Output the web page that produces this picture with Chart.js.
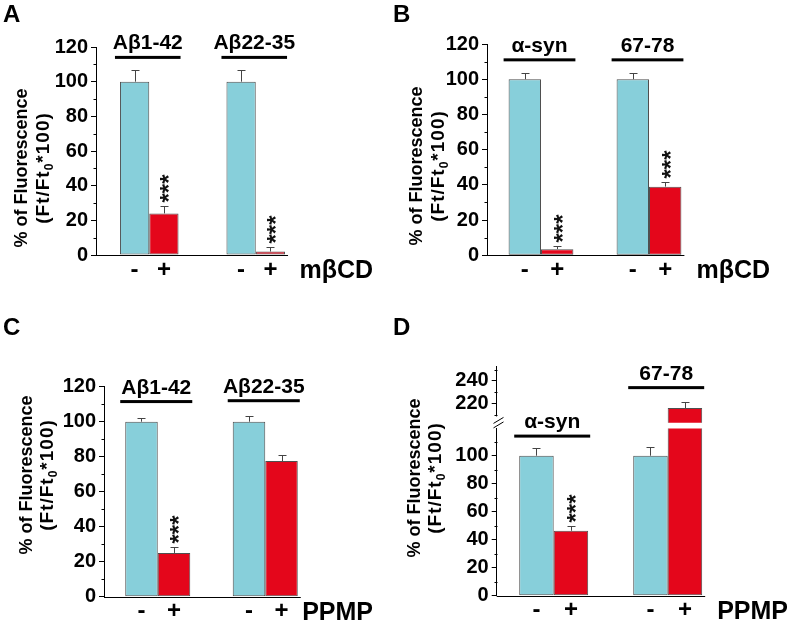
<!DOCTYPE html>
<html>
<head>
<meta charset="utf-8">
<script src="https://cdn.jsdelivr.net/npm/chart.js@4.4.0/dist/chart.umd.min.js"></script>
<style>
  body { margin: 0; background: #fff; }
  #fig { position: relative; width: 787px; height: 625px; overflow: hidden; background: #fff; }
  #fig canvas { position: absolute; }
</style>
</head>
<body>
<div id="fig">
  <canvas id="chartA"></canvas>
  <canvas id="chartB"></canvas>
  <canvas id="chartC"></canvas>
  <canvas id="chartDtop"></canvas>
  <canvas id="chartD"></canvas>
</div>
<script>
/* Fluorescence after mβCD / PPMP treatment — four bar panels */

const TREATMENT_SIGNS = ['-', '+'];
const Y_TITLE_1 = '% of Fluorescence';
const Y_TITLE_2 = ['(Ft/Ft', '0', '*100)'];   // middle part is a subscript

// A: mβCD on Aβ peptides
const A_GROUPS = ['Aβ1-42', 'Aβ22-35'];
const A_CONTROL = [100, 100];
const A_CONTROL_SEM = [6.7, 6.7];
const A_TREATED = [24, 2];
const A_TREATED_SEM = [4.3, 2.9];
const A_STARS = ['***', '***'];

// B: mβCD on α-syn peptides
const B_GROUPS = ['α-syn', '67-78'];
const B_CONTROL = [100, 100];
const B_CONTROL_SEM = [3.4, 3.4];
const B_TREATED = [3.5, 39];
const B_TREATED_SEM = [1.6, 2.6];
const B_STARS = ['***', '***'];

// C: PPMP on Aβ peptides
const C_GROUPS = ['Aβ1-42', 'Aβ22-35'];
const C_CONTROL = [100, 100];
const C_CONTROL_SEM = [2.3, 3.3];
const C_TREATED = [25, 77.5];
const C_TREATED_SEM = [3.3, 3.3];
const C_STARS = ['***', ''];

// D: PPMP on α-syn peptides (broken axis)
const D_GROUPS = ['α-syn', '67-78'];
const D_CONTROL = [100, 100];
const D_CONTROL_SEM = [5.3, 6.2];
const D_TREATED = [46.4, 216];
const D_TREATED_SEM = [3.6, 5];
const D_STARS = ['***', ''];

const CYAN = '#87CFDA';
const RED = '#E4061B';
const EDGE = '#4f4f4f';
const ERR_COLOR = '#444';
const FONT = 'Arial, "Liberation Sans", sans-serif';

Chart.defaults.font.family = FONT;
Chart.defaults.color = '#000';

const PANELS = [
  {
    letter: 'A', letterY: 22, groups: A_GROUPS, control: A_CONTROL, controlSem: A_CONTROL_SEM,
    treated: A_TREATED, treatedSem: A_TREATED_SEM, stars: A_STARS, treatment: 'mβCD',
    levels: [114, 114], treatX: 373, titleX: [21, 42.5], titleY: 168, groupFrac: 0.55,
    parts: [{ id: 'chartA', box: [0, 0, 390, 300], area: [96, 47, 309, 255], min: 0, max: 120, main: true }]
  },
  {
    letter: 'B', letterY: 22, groups: B_GROUPS, control: B_CONTROL, controlSem: B_CONTROL_SEM,
    treated: B_TREATED, treatedSem: B_TREATED_SEM, stars: B_STARS, treatment: 'mβCD',
    levels: [111, 111], treatX: 380, titleX: [25.5, 47.5], titleY: 166, groupFrac: 0.6,
    parts: [{ id: 'chartB', box: [390, 0, 397, 300], area: [97, 44, 313, 255.3], min: 0, max: 120, main: true }]
  },
  {
    letter: 'C', letterY: 35, groups: C_GROUPS, control: C_CONTROL, controlSem: C_CONTROL_SEM,
    treated: C_TREATED, treatedSem: C_TREATED_SEM, stars: C_STARS, treatment: 'PPMP',
    levels: [111.5, 112], treatX: 373, titleX: [26, 47], titleY: 175, groupFrac: 0.605,
    parts: [{ id: 'chartC', box: [0, 300, 390, 325], area: [104, 86.7, 319, 296.7], min: 0, max: 120, main: true }]
  },
  {
    letter: 'D', letterY: 35, groups: D_GROUPS, control: D_CONTROL, controlSem: D_CONTROL_SEM,
    treated: D_TREATED, treatedSem: D_TREATED_SEM, stars: D_STARS, treatment: 'PPMP',
    levels: [114, 234], treatX: 398, titleX: [23.5, 45], titleY: 178, groupFrac: 0.605,
    parts: [
      { id: 'chartDtop', box: [390, 300, 397, 150], area: [106.7, 66.7, 334.7, 122.7], min: 203, max: 252.5 },
      { id: 'chartD', box: [390, 300, 397, 325], area: [106.7, 128.4, 334.7, 295.7], min: 0, max: 119.5, main: true, axisBreak: true }
    ]
  }
];

function strokeLine(ctx, x1, y1, x2, y2) {
  ctx.beginPath();
  ctx.moveTo(x1, y1);
  ctx.lineTo(x2, y2);
  ctx.stroke();
}

function drawYTitle(ctx, p) {
  ctx.save();
  ctx.fillStyle = '#000';
  ctx.textBaseline = 'alphabetic';
  ctx.font = `bold 18px ${FONT}`;
  ctx.translate(p.titleX[0], p.titleY);
  ctx.rotate(-Math.PI / 2);
  ctx.textAlign = 'center';
  ctx.fillText(Y_TITLE_1, 0, 6);
  ctx.restore();

  // second line: (Ft/Ft0*100) with subscript 0
  const segs = [
    { t: Y_TITLE_2[0], font: `bold 19px ${FONT}`, dy: 6 },
    { t: Y_TITLE_2[1], font: `bold 12px ${FONT}`, dy: 10 },
    { t: Y_TITLE_2[2], font: `bold 19px ${FONT}`, dy: 6 }
  ];
  ctx.save();
  ctx.fillStyle = '#000';
  ctx.translate(p.titleX[1], p.titleY);
  ctx.rotate(-Math.PI / 2);
  ctx.textAlign = 'left';
  ctx.letterSpacing = '1px';
  let total = 0;
  segs.forEach(s => { ctx.font = s.font; s.w = ctx.measureText(s.t).width; total += s.w; });
  let cx = -total / 2;
  segs.forEach(s => { ctx.font = s.font; ctx.fillText(s.t, cx, s.dy); cx += s.w; });
  ctx.restore();
}

function decorPlugin(p, part) {
  return {
    id: 'decor',
    afterDatasetsDraw(chart) {
      const { ctx, chartArea: area, scales: { y } } = chart;
      const inRange = v => v != null && v >= y.min && v <= y.max;
      const series = [p.control, p.treated];
      const sems = [p.controlSem, p.treatedSem];
      const stars = [null, p.stars];
      const axisX = Math.round(area.left) + 0.5;

      ctx.save();
      ctx.lineWidth = 1;
      ctx.strokeStyle = '#000';

      // minor ticks every 10
      for (let v = Math.ceil(y.min / 10) * 10; v <= y.max; v += 10) {
        if (v % 20 === 0) continue;
        const py = Math.round(y.getPixelForValue(v)) + 0.5;
        strokeLine(ctx, axisX - 3, py, axisX, py);
      }

      // error bars and significance stars
      series.forEach((vals, di) => {
        const meta = chart.getDatasetMeta(di);
        vals.forEach((v, i) => {
          const top = v + sems[di][i];
          if (!inRange(v) || top > y.max) return;
          const bar = meta.data[i];
          const x = Math.round(bar.x) + 0.5;
          const y0 = y.getPixelForValue(v);
          const y1 = Math.round(y.getPixelForValue(top)) + 0.5;
          ctx.strokeStyle = ERR_COLOR;
          strokeLine(ctx, x, y0, x, y1);
          strokeLine(ctx, x - 4, y1, x + 4, y1);
          const s = stars[di] && stars[di][i];
          if (s) {
            ctx.save();
            ctx.fillStyle = '#111';
            ctx.font = `bold 24px ${FONT}`;
            ctx.textAlign = 'left';
            ctx.textBaseline = 'alphabetic';
            ctx.translate(bar.x, y1 - 4);
            ctx.rotate(-Math.PI / 2);
            ctx.fillText(s, 0, 24 * 0.56);
            ctx.restore();
          }
        });
      });

      // group labels with underline
      p.groups.forEach((g, i) => {
        const lvl = p.levels[i];
        if (!inRange(lvl)) return;
        const b0 = chart.getDatasetMeta(0).data[i];
        const b1 = chart.getDatasetMeta(1).data[i];
        const x0 = b0.x - b0.width / 2 - 5;
        const x1 = b1.x + b1.width / 2 + 2;
        const ly = y.getPixelForValue(lvl);
        ctx.fillStyle = '#000';
        ctx.fillRect(x0, ly - 1.5, x1 - x0, 3);
        ctx.font = `bold 21px ${FONT}`;
        ctx.textAlign = 'center';
        ctx.textBaseline = 'alphabetic';
        ctx.fillText(g, (x0 + x1) / 2, ly - 8);
      });

      if (part.main) {
        // x axis line up to the last bar
        const metaLast = chart.getDatasetMeta(1).data;
        const lastBar = metaLast[metaLast.length - 1];
        const by = Math.round(area.bottom) + 0.5;
        ctx.strokeStyle = '#000';
        strokeLine(ctx, area.left, by, lastBar.x + lastBar.width / 2 + 3, by);

        // - / + under each bar
        ctx.fillStyle = '#000';
        ctx.font = `bold 24px ${FONT}`;
        ctx.textAlign = 'center';
        ctx.textBaseline = 'middle';
        [0, 1].forEach(di => {
          chart.getDatasetMeta(di).data.forEach(bar => {
            ctx.fillText(TREATMENT_SIGNS[di], bar.x, area.bottom + 15);
          });
        });

        // treatment name
        ctx.font = `bold 25px ${FONT}`;
        ctx.textAlign = 'right';
        ctx.fillText(p.treatment, p.treatX, area.bottom + 16);

        // panel letter
        ctx.font = `bold 24px ${FONT}`;
        ctx.textAlign = 'left';
        ctx.textBaseline = 'alphabetic';
        ctx.fillText(p.letter, 3, p.letterY);

        drawYTitle(ctx, p);
      }

      if (part.axisBreak) {
        const top = area.top;
        ctx.fillStyle = '#fff';
        ctx.fillRect(axisX - 2, top - 12, 4, 11);
        ctx.strokeStyle = '#000';
        strokeLine(ctx, axisX - 4, top - 5, axisX + 6, top - 11);
        strokeLine(ctx, axisX - 4, top - 0.5, axisX + 6, top - 6.5);
      }
      ctx.restore();
    }
  };
}

function buildPart(p, part) {
  const canvas = document.getElementById(part.id);
  const [bx, by, bw, bh] = part.box;
  const [left, top, right, bottom] = part.area;
  canvas.width = bw;
  canvas.height = bh;
  canvas.style.left = bx + 'px';
  canvas.style.top = by + 'px';

  const visible = vals => vals.map(v => (v >= part.min ? v : null));

  new Chart(canvas, {
    type: 'bar',
    data: {
      labels: p.groups,
      datasets: [
        {
          label: TREATMENT_SIGNS[0],
          data: visible(p.control),
          backgroundColor: CYAN,
          borderColor: EDGE,
          borderWidth: 1,
          borderSkipped: false,
          clip: 0
        },
        {
          label: TREATMENT_SIGNS[1],
          data: visible(p.treated),
          backgroundColor: RED,
          borderColor: EDGE,
          borderWidth: 1,
          borderSkipped: false,
          clip: 0
        }
      ]
    },
    options: {
      responsive: false,
      animation: false,
      events: [],
      categoryPercentage: p.groupFrac,
      barPercentage: 1,
      layout: { padding: { left: 0, top: top, right: bw - right, bottom: 0 } },
      plugins: {
        legend: { display: false },
        tooltip: { enabled: false }
      },
      scales: {
        x: {
          grid: { display: false },
          border: { display: false },
          ticks: { display: false },
          afterFit: s => { s.height = bh - bottom; }
        },
        y: {
          min: part.min,
          max: part.max,
          ticks: {
            stepSize: 20,
            includeBounds: false,
            padding: 3,
            color: '#000',
            font: { family: FONT, size: 20, weight: 'bold' }
          },
          grid: { drawOnChartArea: false, tickLength: 5, tickColor: '#000', tickWidth: 1 },
          border: { color: '#000', width: 1 },
          afterFit: s => { s.width = left; }
        }
      }
    },
    plugins: [decorPlugin(p, part)]
  });
}

PANELS.forEach(p => p.parts.forEach(part => buildPart(p, part)));
</script>
</body>
</html>
